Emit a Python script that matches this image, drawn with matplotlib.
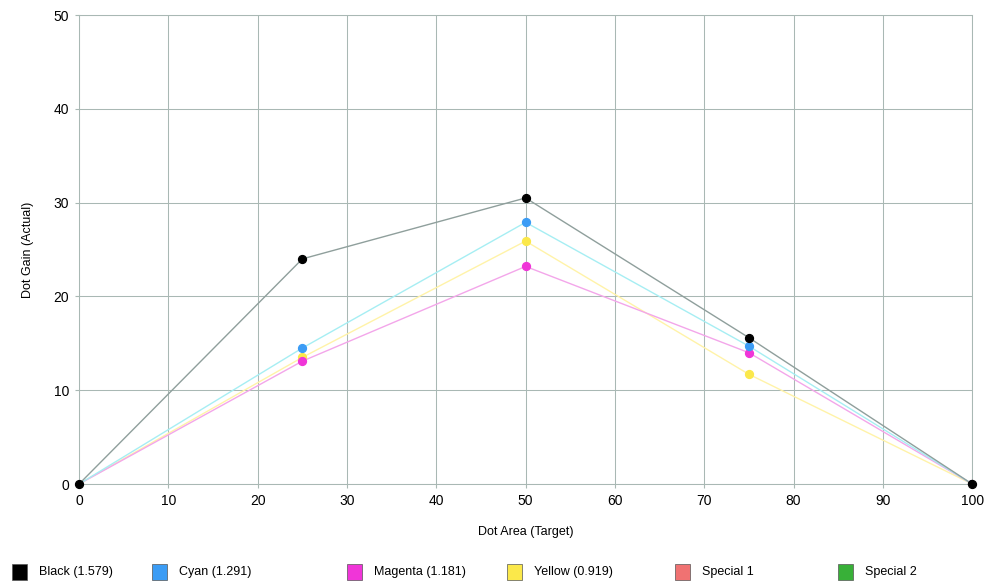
import numpy as np
import matplotlib
matplotlib.use("Agg")
import matplotlib.pyplot as plt
from matplotlib.patches import Rectangle

plt.rcParams['font.family'] = ['Liberation Sans', 'DejaVu Sans']

# dot area targets
dot_area = [0, 25, 50, 75, 100]

# measured dot gain per ink
black = [0, 24.0, 30.5, 15.6, 0]
cyan = [0, 14.5, 27.9, 14.7, 0]
magenta = [0, 13.1, 23.2, 14.0, 0]
yellow = [0, 13.5, 25.9, 11.7, 0]

legend_labels = ["Black (1.579)", "Cyan (1.291)", "Magenta (1.181)",
                 "Yellow (0.919)", "Special 1", "Special 2"]
legend_colors = ["#000000", "#3b9cf5", "#f035d8", "#fbe84a", "#f07272", "#38b038"]

fig = plt.figure(figsize=(9.88, 5.85), dpi=100)
ax = fig.add_axes([0.08, 0.1726, 0.904, 0.8017])

grid_col = "#a9b8b4"
ax.set_xlim(0, 100)
ax.set_ylim(0, 50)
ax.set_xticks(np.arange(0, 101, 10))
ax.set_yticks(np.arange(0, 51, 10))
ax.grid(True, color=grid_col, linewidth=0.75)
for s in ax.spines.values():
    s.set_color(grid_col)
    s.set_linewidth(0.75)
ax.tick_params(length=3, color=grid_col, labelsize=10, pad=4)

# series: (values, line colour, dot colour)
series = [
    (yellow, "#fff3a8", "#fbe84a"),
    (magenta, "#f3a6ea", "#f035d8"),
    (cyan, "#a6eef3", "#3b9cf5"),
    (black, "#8f9f9c", "#000000"),
]
for vals, lc, mc in series:
    ax.plot(dot_area, vals, color=lc, linewidth=1.0, zorder=3)
    ax.scatter(dot_area[1:], vals[1:], color=mc, s=32, zorder=4)
ax.scatter([0, 100], [0, 0], color="black", s=32, zorder=5, clip_on=False)

ax.set_xlabel("Dot Area (Target)", fontsize=9, labelpad=13)
ax.set_ylabel("Dot Gain (Actual)", fontsize=9, labelpad=14)

# legend along the bottom
leg_x = [12, 152, 347, 507, 675, 838]
for x, lab, col in zip(leg_x, legend_labels, legend_colors):
    fig.add_artist(Rectangle((x / 988, (585 - 580) / 585), 15 / 988, 16 / 585,
                             transform=fig.transFigure, facecolor=col,
                             edgecolor="#555555", linewidth=0.5))
    fig.text((x + 27) / 988, (585 - 572) / 585, lab, fontsize=9, va="center")

fig.savefig("out.png", dpi=100)
